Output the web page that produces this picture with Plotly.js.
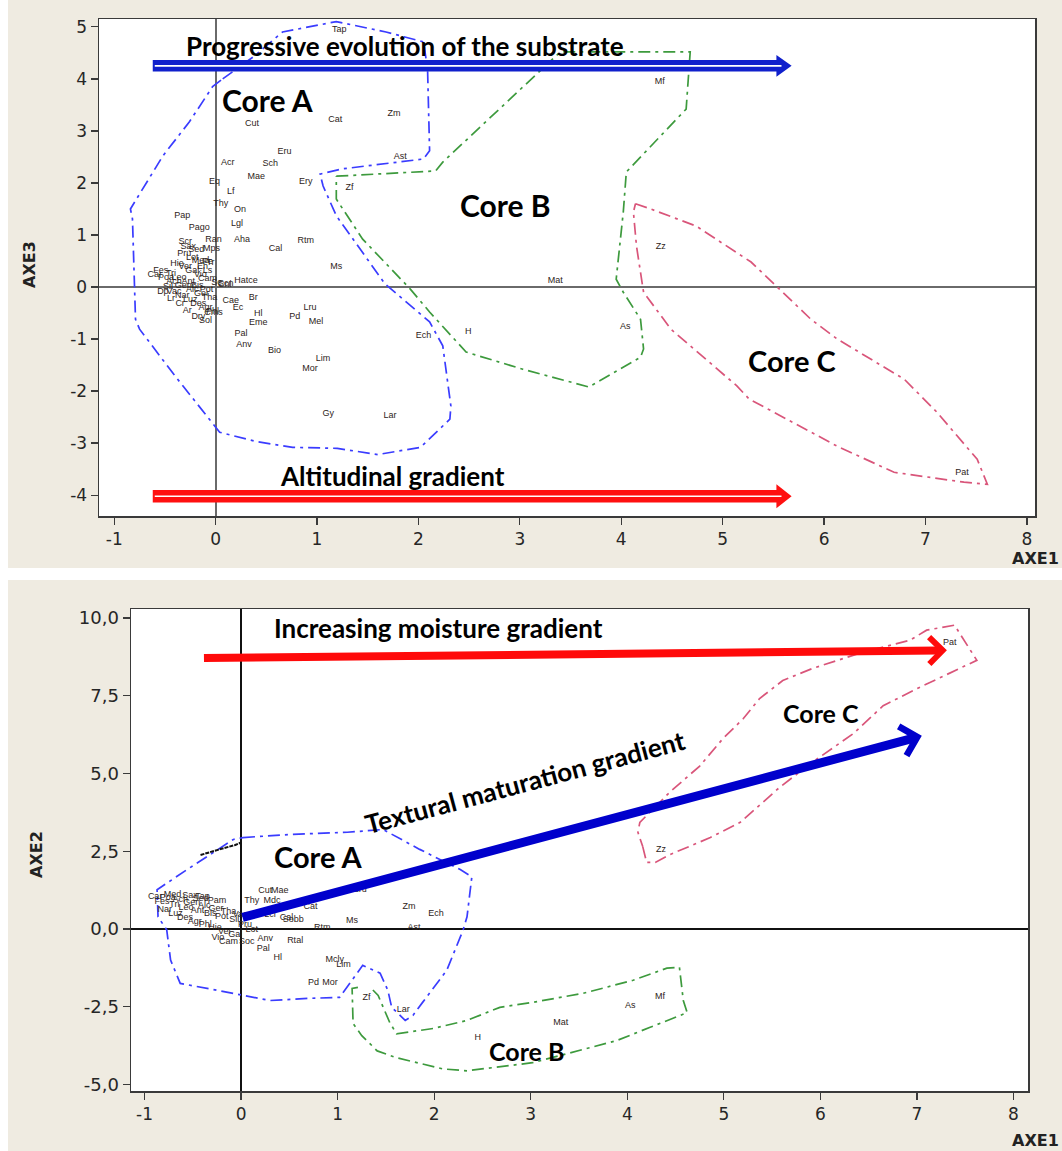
<!DOCTYPE html>
<html><head><meta charset="utf-8">
<script src="https://cdn.plot.ly/plotly-3.0.1.min.js"></script>
<style>html,body{margin:0;padding:0;background:#fff;}#chart{width:1062px;height:1151px;}</style>
</head><body><div id="chart"></div>
<script>
// ---------- Top panel (AXE1 x AXE3) ----------
const topLabel = ['Tap','Sal','Cut','Cat','Zm','Eru','Acr','Sch','Mae','Ery','Ast','Zf','Eq','Lf','Thy','On','Lgl','Pap','Pago','Ran','Aha','Cal','Rtm','Mps','Scr','Pe','Ms','Hatce','Mat','Zz','Mf','Br','Ec','Hl','Eme','Lru','Pd','Mel','Pal','Anv','Bio','Lim','Mor','Ech','H','As','Gy','Lar','Pat','Cae','Cms','Scn',
  'Car','Fes','Poa','Tri','Ach','Leo','Gen','Ant','Alc','Bis','Ger','Pot','Tha','Sil','Vac','Nar','Luz','Des','Agr','Phl','Hie','Ver','Gal','Vio','Cam','Pru','Lot','Med','Sax','Sed','Dry','Sol','Ar','Cr','Lr','Dp','Sc','Cnl','Eh','Ls','Tr'];
const topX = [1.22,0.74,0.36,1.18,1.76,0.68,0.12,0.54,0.40,0.89,1.82,1.32,-0.01,0.15,0.05,0.24,0.21,-0.33,-0.16,-0.02,0.26,0.59,0.89,-0.04,-0.30,-0.08,1.19,0.30,3.35,4.39,4.38,0.37,0.22,0.42,0.42,0.93,0.78,0.99,0.25,0.28,0.58,1.06,0.93,2.05,2.49,4.04,1.11,1.72,7.36,0.15,-0.02,0.10,
  -0.60,-0.54,-0.49,-0.44,-0.41,-0.36,-0.32,-0.27,-0.23,-0.18,-0.14,-0.09,-0.06,-0.47,-0.41,-0.33,-0.25,-0.17,-0.10,-0.03,-0.38,-0.30,-0.23,-0.15,-0.08,-0.31,-0.23,-0.15,-0.27,-0.19,-0.17,-0.10,-0.28,-0.35,-0.44,-0.52,0.01,0.09,-0.13,-0.08,-0.05];
const topY = [4.94,4.20,3.13,3.21,3.33,2.60,2.38,2.37,2.12,2.02,2.50,1.90,2.02,1.83,1.60,1.48,1.21,1.37,1.13,0.90,0.90,0.73,0.88,0.73,0.87,0.48,0.38,0.12,0.12,0.77,3.94,-0.21,-0.40,-0.52,-0.69,-0.40,-0.58,-0.67,-0.90,-1.10,-1.23,-1.38,-1.58,-0.94,-0.85,-0.77,-2.44,-2.48,-3.56,-0.27,-0.50,0.06,
  0.23,0.31,0.17,0.25,0.10,0.17,0.02,0.10,-0.06,0.02,-0.13,-0.06,-0.21,0.00,-0.10,-0.17,-0.25,-0.33,-0.40,-0.48,0.44,0.38,0.31,0.23,0.15,0.63,0.56,0.50,0.77,0.71,-0.58,-0.65,-0.46,-0.33,-0.23,-0.10,0.08,0.04,0.38,0.31,0.46];

const coreA1X = [0.07,0.37,0.66,1.19,1.68,2.05,2.09,2.11,2.05,1.25,1.03,1.06,1.19,1.67,2.11,2.24,2.32,2.31,2.02,1.60,1.20,0.76,0.40,0.04,-0.40,-0.62,-0.75,-0.79,-0.82,-0.84,-0.52,-0.26,-0.03,0.07];
const coreA1Y = [4.00,4.42,4.90,5.10,4.90,4.71,4.19,2.62,2.46,2.27,2.17,1.94,1.37,0.06,-0.67,-1.13,-2.29,-2.54,-3.08,-3.22,-3.10,-3.08,-2.97,-2.79,-1.71,-1.13,-0.81,-0.62,1.31,1.50,2.52,3.17,3.85,4.00];
const coreB1X = [1.19,2.17,2.24,3.40,4.68,4.64,4.05,4.02,3.95,4.02,4.19,4.22,4.19,3.68,3.03,2.47,2.11,1.92,1.45,1.19,1.19];
const coreB1Y = [2.13,2.23,2.40,4.52,4.52,3.42,2.21,1.44,0.15,-0.10,-0.62,-1.19,-1.35,-1.92,-1.58,-1.25,-0.48,-0.04,0.92,1.69,2.13];
const coreC1X = [4.14,4.29,4.74,5.28,5.87,6.13,6.79,7.11,7.51,7.61,7.38,6.69,6.13,5.26,5.14,4.49,4.22,4.15,4.12,4.14];
const coreC1Y = [1.60,1.50,1.17,0.48,-0.62,-1.00,-1.77,-2.40,-3.31,-3.79,-3.75,-3.56,-3.06,-2.15,-1.90,-0.81,-0.10,0.79,1.44,1.60];

// ---------- Bottom panel (AXE1 x AXE2) ----------
const botLabel = ['Pat','Zz','Mf','As','Mat','H','Zf','Lar','Zm','Ech','Ast','Ms','Cat','Eru','Cut','Mae','Thy','Mdc','Tap','Pam','Sobb','Rtm','Soc','Anv','Rtal','Pal','Hl','Mcly','Lim','Pd','Mor','Lcl','Cal',
  'Car','Fes','Poa','Tri','Ach','Leo','Gen','Ant','Alc','Bis','Ger','Pot','Tha','Sil','Vac','Nar','Luz','Des','Agr','Phl','Hie','Ver','Gal','Vio','Cam','Pru','Lot','Med','Sax','Sed'];
const botX = [7.34,4.35,4.34,4.03,3.31,2.45,1.30,1.68,1.74,2.02,1.79,1.15,0.72,1.23,0.25,0.40,0.11,0.32,-0.40,-0.25,0.54,0.84,0.06,0.25,0.56,0.23,0.38,0.97,1.06,0.75,0.92,0.30,0.47,
  -0.89,-0.82,-0.76,-0.69,-0.63,-0.57,-0.51,-0.45,-0.38,-0.32,-0.26,-0.20,-0.13,-0.07,-0.01,-0.79,-0.68,-0.58,-0.48,-0.37,-0.27,-0.17,-0.06,-0.24,-0.13,0.04,0.11,-0.71,-0.53,-0.42];
const botY = [9.20,2.54,-2.19,-2.48,-3.02,-3.50,-2.22,-2.60,0.71,0.48,0.03,0.26,0.71,1.25,1.22,1.22,0.90,0.92,1.03,0.90,0.29,0.03,-0.42,-0.32,-0.39,-0.64,-0.93,-1.00,-1.16,-1.74,-1.74,0.45,0.35,
  1.03,0.87,1.00,0.77,0.93,0.68,0.84,0.58,0.74,0.48,0.64,0.39,0.55,0.29,0.45,0.61,0.48,0.35,0.23,0.13,0.03,-0.10,-0.19,-0.29,-0.42,0.13,-0.03,1.09,1.06,0.96];

const coreA2X = [0.02,0.51,1.10,1.47,1.85,2.27,2.39,2.34,2.30,2.13,1.88,1.78,1.70,1.56,1.52,1.44,1.26,1.10,1.02,0.71,0.30,-0.25,-0.63,-0.73,-0.77,-0.86,-0.87,-0.56,-0.08,0.02];
const coreA2Y = [2.94,3.04,3.11,3.20,2.56,1.91,1.68,0.39,-0.03,-1.33,-2.36,-2.78,-2.94,-2.52,-1.97,-1.42,-1.17,-1.88,-2.20,-2.23,-2.30,-1.97,-1.75,-1.00,-0.03,0.39,1.26,1.91,2.88,2.94];
const coreB2X = [1.21,1.15,1.16,1.25,1.41,1.61,2.09,2.34,3.02,3.48,3.89,4.23,4.62,4.58,4.54,4.41,4.06,3.54,3.02,2.68,2.34,1.99,1.61,1.54,1.42,1.34];
const coreB2Y = [-1.88,-1.91,-3.04,-3.43,-3.92,-4.14,-4.50,-4.56,-4.30,-3.92,-3.59,-3.17,-2.69,-2.30,-1.23,-1.26,-1.65,-2.07,-2.36,-2.52,-2.94,-3.20,-3.37,-3.01,-2.14,-1.88];
const coreC2X = [4.16,4.20,4.29,4.44,4.86,5.17,5.58,5.92,6.34,6.65,7.00,7.52,7.62,7.46,7.39,7.10,6.93,6.41,5.92,5.61,5.37,5.20,4.99,4.75,4.44,4.13,4.11,4.16];
const coreC2Y = [2.65,2.14,2.14,2.39,2.94,3.43,4.56,5.37,6.28,7.18,7.73,8.48,8.64,9.42,9.77,9.61,9.29,8.87,8.38,7.99,7.41,6.76,6.12,5.24,4.40,3.43,3.11,2.65];
const smearX = [-0.42,-0.30,-0.18,-0.06,0.00];
const smearY = [2.38,2.50,2.60,2.70,2.78];

const yTicksTop = [-4,-3,-2,-1,0,1,2,3,4,5];
const yTicksBot = [-5,-2.5,0,2.5,5,7.5,10];
const xTicks = [-1,0,1,2,3,4,5,6,7,8];
const intText = v => String(v);
const decText = v => v.toFixed(1).replace('.', ',');

// ---------- layout helpers ----------
const W = 1062, H = 1151;
const fx = p => p / W, fy = p => 1 - p / H;
const lblFont = {family:'Liberation Sans, Arial', size:9, color:'#2e2420'};
const dashPat = '12px,5px,3px,5px';
const blue = '#3a3cff', green = '#3d9a3d', pink = '#d9557a';

function txt(x, y, t, xa, ya){ return {type:'scatter', mode:'text', x:x, y:y, text:t, textfont:lblFont, textposition:'middle center', hoverinfo:'skip', xaxis:xa, yaxis:ya}; }
function hull(x, y, c, xa, ya){ return {type:'scatter', mode:'lines', x:x, y:y, line:{color:c, width:1.7, dash:dashPat}, hoverinfo:'skip', xaxis:xa, yaxis:ya}; }

const traces = [
  hull(coreA1X, coreA1Y, blue, 'x', 'y'),
  hull(coreB1X, coreB1Y, green, 'x', 'y'),
  hull(coreC1X, coreC1Y, pink, 'x', 'y'),
  txt(topX, topY, topLabel, 'x', 'y'),
  hull(coreA2X, coreA2Y, blue, 'x2', 'y2'),
  hull(coreB2X, coreB2Y, green, 'x2', 'y2'),
  hull(coreC2X, coreC2Y, pink, 'x2', 'y2'),
  {type:'scatter', mode:'lines', x:smearX, y:smearY, line:{color:'#111', width:2, dash:'4px,1px'}, hoverinfo:'skip', xaxis:'x2', yaxis:'y2'},
  txt(botX, botY, botLabel, 'x2', 'y2')
];

function axisBase(extra, fs){
  return Object.assign({showgrid:false, showline:true, mirror:true, linecolor:'#3a3a3a', linewidth:1.5,
    ticks:'outside', ticklen:7, tickwidth:1.3, tickcolor:'#3a3a3a',
    tickfont:{family:'DejaVu Sans', size:fs, color:'#262626'}, fixedrange:true}, extra);
}

const boldFont = (s) => ({family:'Lato, Open Sans, sans-serif', size:s, color:'#000', weight:'bold'});
function note(x, y, t, s, xr, yr, ang){
  return {x:x, y:y, xref:xr, yref:yr, text:'<b>'+t+'</b>', showarrow:false, font:boldFont(s), textangle:ang||0, xanchor:'center', yanchor:'middle'};
}
const axFont = {family:'DejaVu Sans', size:16, color:'#222'};

const annotations = [
  note(1.87, 4.63, 'Progressive evolution of the substrate', 26, 'x', 'y'),
  note(0.51, 3.60, 'Core A', 30, 'x', 'y'),
  note(2.86, 1.58, 'Core B', 30, 'x', 'y'),
  note(5.68, -1.42, 'Core C', 29, 'x', 'y'),
  note(1.74, -3.64, 'Altitudinal gradient', 26, 'x', 'y'),
  note(2.04, 9.68, 'Increasing moisture gradient', 26, 'x2', 'y2'),
  note(2.94, 4.72, 'Textural maturation gradient', 26, 'x2', 'y2', -15),
  note(0.80, 2.33, 'Core A', 29, 'x2', 'y2'),
  note(2.96, -3.92, 'Core B', 25, 'x2', 'y2'),
  note(6.01, 6.96, 'Core C', 25, 'x2', 'y2'),
  // axis titles
  {x:fx(30), y:fy(265), xref:'paper', yref:'paper', xanchor:'center', yanchor:'middle', text:'<b>AXE3</b>', showarrow:false, textangle:-90, font:axFont},
  {x:fx(36), y:fy(855), xref:'paper', yref:'paper', xanchor:'center', yanchor:'middle', text:'<b>AXE2</b>', showarrow:false, textangle:-90, font:axFont},
  {x:fx(1061), y:fy(558), xref:'paper', yref:'paper', xanchor:'right', yanchor:'middle', text:'<b>AXE1</b>', showarrow:false, font:axFont},
  {x:fx(1061), y:fy(1140), xref:'paper', yref:'paper', xanchor:'right', yanchor:'middle', text:'<b>AXE1</b>', showarrow:false, font:axFont},
  // bottom arrows
  {x:7.31, y:8.96, ax:-0.40, ay:8.71, xref:'x2', yref:'y2', axref:'x2', ayref:'y2', text:'', showarrow:true, arrowhead:4, arrowsize:0.65, arrowwidth:8, arrowcolor:'#ff0a0a', standoff:0},
  {x:7.05, y:6.21, ax:0.00, ay:0.36, xref:'x2', yref:'y2', axref:'x2', ayref:'y2', text:'', showarrow:true, arrowhead:4, arrowsize:0.65, arrowwidth:9, arrowcolor:'#0000cc', standoff:0}
];

function dblArrow(yc, half, headHalf, x0, xb, xt, col){
  const p = 'M'+x0+','+(yc-half)+' L'+xb+','+(yc-half)+' L'+xb+','+(yc-headHalf)+' L'+xt+','+yc+' L'+xb+','+(yc+headHalf)+' L'+xb+','+(yc+half)+' L'+x0+','+(yc+half)+' Z';
  return [
    {type:'path', xref:'x', yref:'y', path:p, fillcolor:col, line:{width:0}, layer:'above'},
    {type:'line', xref:'x', yref:'y', x0:x0+0.02, x1:xt-0.1, y0:yc, y1:yc, line:{color:'#ffffff', width:1.6}, layer:'above'}
  ];
}

const shapes = [
  {type:'rect', xref:'paper', yref:'paper', x0:0, x1:fx(8), y0:0, y1:1, fillcolor:'#ffffff', line:{width:0}, layer:'below'},
  {type:'rect', xref:'paper', yref:'paper', x0:0, x1:1, y0:fy(580), y1:fy(568), fillcolor:'#ffffff', line:{width:0}, layer:'below'},
  ...dblArrow(4.25, 0.11, 0.21, -0.62, 5.53, 5.68, '#1020cc'),
  ...dblArrow(-4.02, 0.12, 0.23, -0.62, 5.53, 5.68, '#ff1010')
];

const layout = {
  width:W, height:H, margin:{l:0, r:0, t:0, b:0},
  paper_bgcolor:'#efebe1', plot_bgcolor:'#ffffff', showlegend:false,
  xaxis: axisBase({domain:[fx(99), fx(1035)], range:[-1.15, 8.08], anchor:'y', tickvals:xTicks, ticktext:xTicks.map(intText),
    zeroline:true, zerolinecolor:'#6a6a6a', zerolinewidth:2}, 17),
  yaxis: axisBase({domain:[fy(516), fy(19)], range:[-4.4, 5.15], anchor:'x', tickvals:yTicksTop, ticktext:yTicksTop.map(intText),
    zeroline:true, zerolinecolor:'#6a6a6a', zerolinewidth:2}, 17),
  xaxis2: axisBase({domain:[fx(131), fx(1028)], range:[-1.14, 8.15], anchor:'y2', tickvals:xTicks, ticktext:xTicks.map(intText),
    zeroline:true, zerolinecolor:'#111', zerolinewidth:1.4}, 17),
  yaxis2: axisBase({domain:[fy(1091), fy(609)], range:[-5.21, 10.29], anchor:'x2', tickvals:yTicksBot, ticktext:yTicksBot.map(decText),
    zeroline:true, zerolinecolor:'#111', zerolinewidth:1.4}, 18),
  annotations: annotations,
  shapes: shapes
};

Plotly.newPlot('chart', traces, layout, {displayModeBar:false, staticPlot:true});
</script></body></html>
